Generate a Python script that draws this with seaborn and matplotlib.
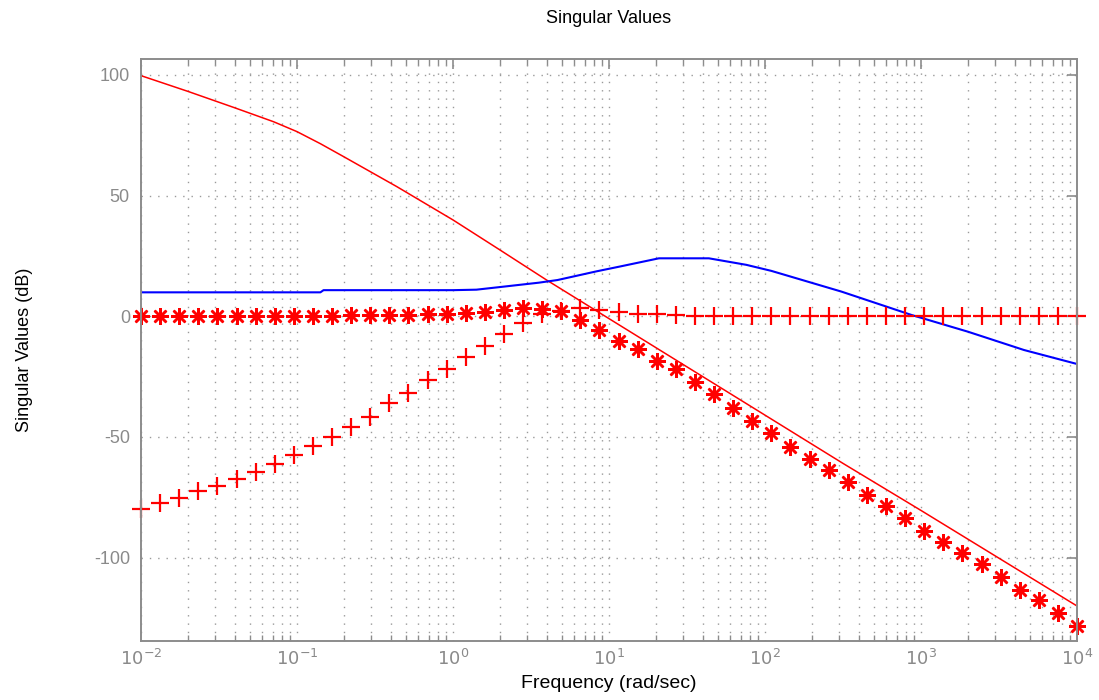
import numpy as np
import pandas as pd
import matplotlib
matplotlib.use("Agg")
import matplotlib.pyplot as plt
import seaborn as sns
from matplotlib.ticker import LogLocator, NullFormatter, FixedLocator

# Sample frequencies of the marker series (rad/sec)
marker_freq = np.logspace(-2, 4, 50)

# Complementary sensitivity (dB), drawn with '*'
sv_star = [0.0, 0.0, 0.0, 0.0, 0.0, 0.0, 0.0, 0.1, 0.1, 0.1,
           0.2, 0.3, 0.4, 0.5, 0.7, 0.8, 1.0, 1.3, 1.9, 2.6,
           3.3, 3.1, 2.3, -1.4, -5.6, -10.1, -13.7, -18.4, -22.0, -27.4,
           -32.2, -38.1, -43.4, -48.5, -54.0, -59.1, -63.7, -68.8, -74.1, -78.5,
           -83.5, -88.9, -93.4, -98.2, -102.8, -108.2, -113.4, -117.6, -123.1, -128.2]

# Sensitivity (dB), drawn with '+'
sv_plus = [-79.9, -77.5, -75.4, -72.4, -70.3, -67.3, -64.4, -61.1, -57.6, -53.9,
           -50.0, -45.8, -41.6, -36.1, -31.8, -26.4, -22.0, -16.7, -12.3, -7.5,
           -2.7, 0.8, 2.2, 3.3, 2.5, 1.7, 0.9, 0.9, 0.3, 0.2,
           0.1, 0.1, 0.0, 0.0, 0.0, 0.0, 0.0, 0.0, 0.0, 0.0,
           0.0, 0.0, 0.0, 0.0, 0.0, 0.0, 0.0, 0.0, 0.0, 0.0]

# Loop gain (red line)
loop_logw = [-2.0, -1.7, -1.4, -1.15, -1.0, -0.85, -0.70, -0.36, 0.0, 0.30, 0.60,
             1.0, 1.5, 1.97, 2.5, 3.0, 3.5, 4.0]
loop_db = [99.7, 93.2, 86.4, 80.6, 76.5, 71.5, 66.1, 53.7, 39.9, 27.5, 15.0,
           -1.0, -21.0, -39.8, -61.0, -80.5, -100.3, -120.1]

# Controller gain (blue line)
ctrl_logw = [-2.0, -0.85, -0.83, 0.0, 0.15, 0.33, 0.55, 0.67, 0.92, 1.07,
             1.32, 1.64, 1.88, 2.04, 2.49, 2.94, 3.30, 3.66, 4.0]
ctrl_db = [9.9, 9.9, 10.8, 10.8, 11.0, 12.3, 13.9, 15.0, 18.6, 20.6,
           24.0, 24.0, 21.3, 18.8, 10.2, 0.5, -6.4, -14.0, -19.8]

markers_df = pd.DataFrame({"w": marker_freq, "star": sv_star, "plus": sv_plus})
loop_df = pd.DataFrame({"w": 10.0 ** np.array(loop_logw), "db": loop_db})
ctrl_df = pd.DataFrame({"w": 10.0 ** np.array(ctrl_logw), "db": ctrl_db})

sns.set_theme(style="white")
plt.rcParams["font.family"] = ["Liberation Sans", "DejaVu Sans"]
plt.rcParams["axes.unicode_minus"] = False

axis_gray = "#8c8c8c"

fig = plt.figure(figsize=(10.99, 7.0), dpi=100)
ax = fig.add_axes([0.1283, 0.0843, 0.8517, 0.8314])

sns.lineplot(data=loop_df, x="w", y="db", ax=ax, color="#ff0000",
             linewidth=1.1, sort=False, estimator=None)
sns.lineplot(data=ctrl_df, x="w", y="db", ax=ax, color="#0000ff",
             linewidth=1.5, sort=False, estimator=None)
sns.lineplot(data=markers_df, x="w", y="star", ax=ax, color="#ff0000",
             linestyle="none", marker=(8, 2, 0), markersize=12, markeredgewidth=1.8,
             markeredgecolor="#ff0000", sort=False, estimator=None, clip_on=False)
sns.lineplot(data=markers_df, x="w", y="plus", ax=ax, color="#ff0000",
             linestyle="none", marker="+", markersize=13, markeredgewidth=1.6,
             markeredgecolor="#ff0000", sort=False, estimator=None, clip_on=False)

ax.set_xscale("log")
ax.set_xlim(1e-2, 1e4)
ax.set_ylim(-134.6, 106.6)

ax.xaxis.set_major_locator(FixedLocator([1e-2, 1e-1, 1e0, 1e1, 1e2, 1e3, 1e4]))
ax.xaxis.set_minor_locator(LogLocator(base=10, subs=np.arange(2, 10), numticks=20))
ax.xaxis.set_minor_formatter(NullFormatter())
ax.set_xticklabels([r"$10^{-2}$", r"$10^{-1}$", r"$10^{0}$", r"$10^{1}$",
                    r"$10^{2}$", r"$10^{3}$", r"$10^{4}$"])
ax.yaxis.set_major_locator(FixedLocator([-100, -50, 0, 50, 100]))
ax.set_yticklabels(["-100", "-50", "0", "50", "100"])

grid_style = dict(color="#9a9a9a", linestyle=(0, (1, 5)), linewidth=1.0)
ax.grid(True, which="major", axis="both", **grid_style)
ax.grid(True, which="minor", axis="x", **grid_style)

for sp in ax.spines.values():
    sp.set_visible(True)
    sp.set_color(axis_gray)
    sp.set_linewidth(1.4)

ax.tick_params(axis="both", which="major", direction="in", length=7, width=1.2,
               colors=axis_gray, labelsize=13, top=True, right=True,
               labelcolor="#8a8a8a")
ax.tick_params(axis="x", which="minor", direction="in", length=4, width=1.0,
               colors=axis_gray, top=True, bottom=True)
ax.tick_params(axis="x", which="major", pad=6)
ax.tick_params(axis="y", which="major", pad=8)

ax.set_xlabel("Frequency (rad/sec)", fontsize=14, color="black", labelpad=4)
ax.set_ylabel("Singular Values (dB)", fontsize=13, color="black", labelpad=44)
ax.set_title("Singular Values", fontsize=13, color="black", pad=26)

fig.savefig("out.png", dpi=100)
